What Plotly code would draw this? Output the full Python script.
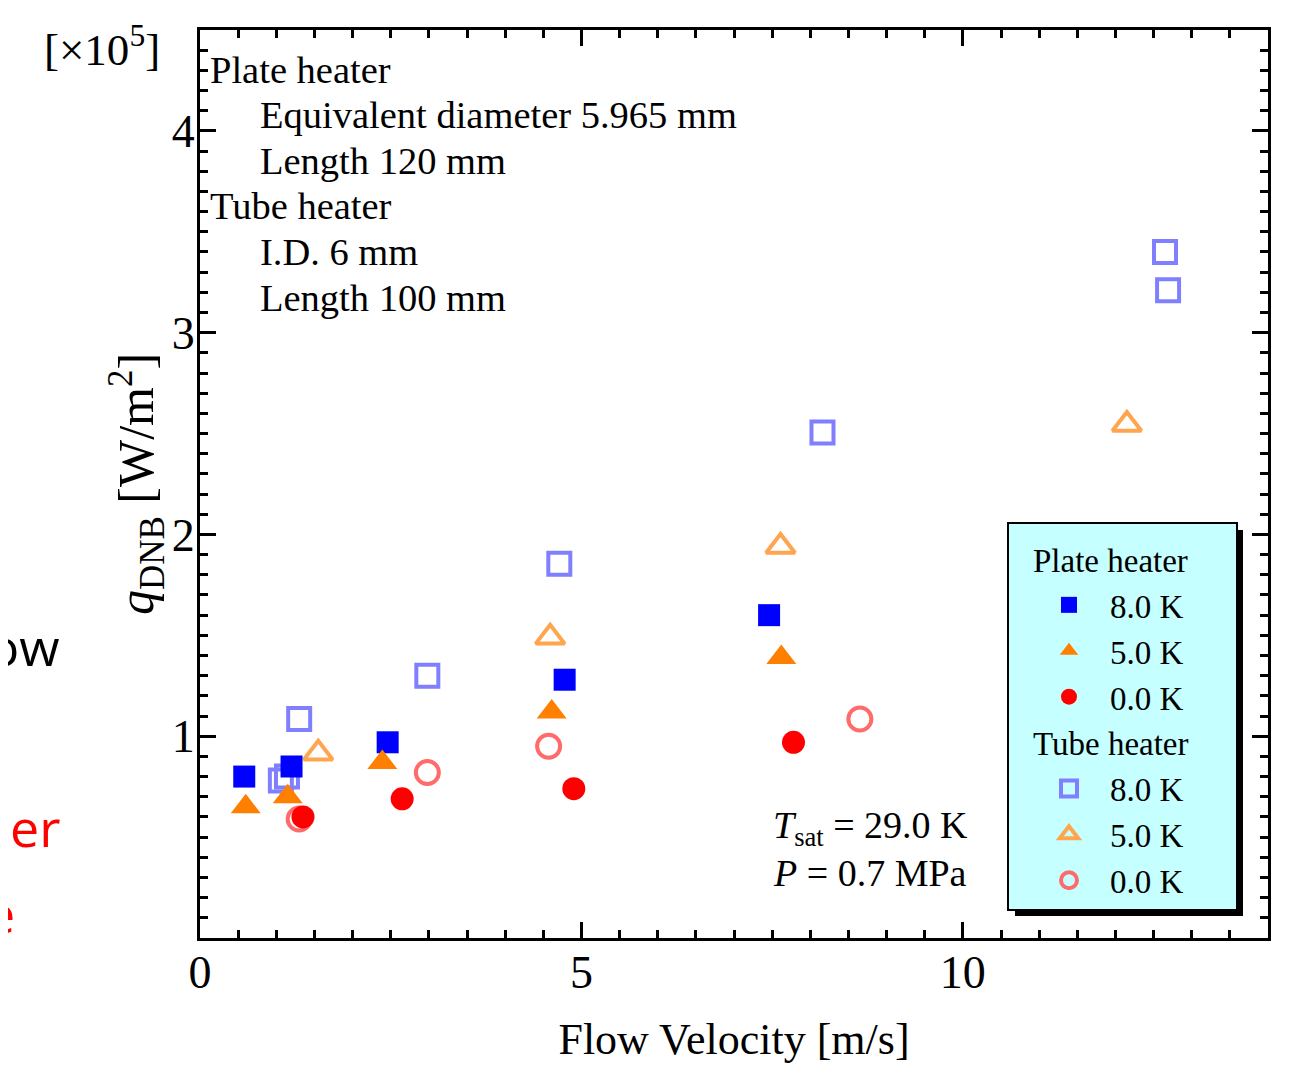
import plotly.graph_objects as go

# ---------------- data ----------------
plate_8K_v = [0.58, 1.20, 2.46, 4.78, 7.46]
plate_8K_q = [0.80, 0.85, 0.97, 1.28, 1.60]

plate_5K_v = [0.60, 1.15, 2.39, 4.61, 7.62]
plate_5K_q = [0.65, 0.70, 0.87, 1.12, 1.39]

plate_0K_v = [1.35, 2.65, 4.90, 7.78]
plate_0K_q = [0.60, 0.69, 0.74, 0.97]

tube_8K_v = [1.06, 1.14, 1.30, 2.98, 4.71, 8.16, 12.65, 12.69]
tube_8K_q = [0.78, 0.80, 1.085, 1.30, 1.855, 2.505, 3.40, 3.21]

tube_5K_v = [1.55, 4.59, 7.61, 12.15]
tube_5K_q = [0.915, 1.49, 1.94, 2.545]

tube_0K_v = [1.30, 2.98, 4.57, 8.65]
tube_0K_q = [0.59, 0.82, 0.95, 1.085]

x_tickvals = [0, 5, 10]
y_tickvals = [1, 2, 3, 4]

# ---------------- layout helpers ----------------
PAGE_W, PAGE_H = 1292, 1077
OFF = 8                       # default html body margin
W, H = PAGE_W - OFF, PAGE_H - OFF
L, R, T, B = 200, 1268, 30, 938   # plot area in page pixels


def px(xp):
    return (xp - L) / (R - L)


def py(yp):
    return (B - yp) / (B - T)


FONT = "Liberation Serif, Times New Roman, serif"
LEG_SIZE = 33

fig = go.Figure()

traces = [
    ("Plate heater", "8.0 K", plate_8K_v, plate_8K_q, "square", "#0000FF", 22, 0),
    ("Plate heater", "5.0 K", plate_5K_v, plate_5K_q, "triangle-up", "#FF8000", 26, 0),
    ("Plate heater", "0.0 K", plate_0K_v, plate_0K_q, "circle", "#FF0000", 23, 0),
    ("Tube heater", "8.0 K", tube_8K_v, tube_8K_q, "square-open", "#8080FF", 22, 4),
    ("Tube heater", "5.0 K", tube_5K_v, tube_5K_q, "triangle-up-open", "#FFA54F", 25, 4),
    ("Tube heater", "0.0 K", tube_0K_v, tube_0K_q, "circle-open", "#FF6B6B", 23, 4),
]

# draw tube (open) first so filled plate markers sit on top
order = [3, 4, 5, 0, 1, 2]
for i in order:
    grp, name, xv, yv, sym, col, sz, lw = traces[i]
    fig.add_trace(go.Scatter(
        x=xv, y=yv, mode="markers", name=name,
        legendgroup=grp,
        legendgrouptitle=dict(text=grp, font=dict(size=LEG_SIZE, family=FONT, color="black")),
        legendrank=i + 1,
        marker=dict(symbol=sym, color=col, size=sz,
                    line=dict(width=lw, color=col)),
    ))

axis_common = dict(
    showline=True, linecolor="black", linewidth=3, mirror="allticks",
    ticks="inside", ticklen=16, tickwidth=3, tickcolor="black",
    showgrid=False, zeroline=False,
    tickfont=dict(family=FONT, size=46, color="black"),
)

fig.update_xaxes(
    range=[0, 14], tickvals=x_tickvals, ticklabelstandoff=-8,
    minor=dict(ticks="inside", ticklen=8, tickwidth=3, tickcolor="black", dtick=0.5, showgrid=False),
    title=dict(text="Flow Velocity [m/s]", font=dict(family=FONT, size=44, color="black"), standoff=26),
    **axis_common,
)
fig.update_yaxes(
    range=[0, 4.5], tickvals=y_tickvals, ticklabelstandoff=-7,
    minor=dict(ticks="inside", ticklen=8, tickwidth=3, tickcolor="black", dtick=0.1, showgrid=False),
    title=dict(text="<i>q</i><sub>DNB</sub> [W/m<sup>2</sup>]",
               font=dict(family=FONT, size=50, color="black"), standoff=0),
    **axis_common,
)

annotations = []
# top-left description block
for text, xp, yp in [
    ("Plate heater", 208, 70),
    ("Equivalent diameter 5.965 mm", 258, 115),
    ("Length 120 mm", 258, 161),
    ("Tube heater", 208, 206),
    ("I.D. 6 mm", 258, 252),
    ("Length 100 mm", 258, 298),
]:
    annotations.append(dict(text=text, x=px(xp), y=py(yp), xref="paper", yref="paper",
                            xanchor="left", yanchor="middle", showarrow=False,
                            font=dict(family=FONT, size=38.5, color="black")))

annotations.append(dict(text="<i>T</i><sub>sat</sub> = 29.0 K", x=px(771), y=py(828),
                        xref="paper", yref="paper", xanchor="left", yanchor="middle",
                        showarrow=False, font=dict(family=FONT, size=38, color="black")))
annotations.append(dict(text="<i>P</i> = 0.7 MPa", x=px(771), y=py(873),
                        xref="paper", yref="paper", xanchor="left", yanchor="middle",
                        showarrow=False, font=dict(family=FONT, size=38, color="black")))

annotations.append(dict(text="[×10<sup>5</sup>]", x=px(162), y=py(46),
                        xref="paper", yref="paper", xanchor="right", yanchor="middle",
                        showarrow=False, font=dict(family=FONT, size=45, color="black")))

# slide fragments cut at the left border
for text, xp, yp, col in [("ow", 62, 645, "black"), ("er", 62, 826, "#FF0000"), ("e", 17, 912, "#FF0000")]:
    annotations.append(dict(text=text, x=px(xp), y=py(yp), xref="paper", yref="paper",
                            xanchor="right", yanchor="middle", showarrow=False,
                            font=dict(family="Open Sans, sans-serif", size=52, color=col)))

shapes = [
    # legend shadow
    dict(type="rect", xref="paper", yref="paper", x0=px(1015), x1=px(1243), y0=py(916), y1=py(530),
         fillcolor="black", line=dict(width=0), layer="above"),
    # legend box
    dict(type="rect", xref="paper", yref="paper", x0=px(1008), x1=px(1237), y0=py(910), y1=py(523),
         fillcolor="#C6FFFF", line=dict(width=2, color="black"), layer="above"),
]

fig.update_layout(
    width=W, height=H,
    margin=dict(l=L - OFF, r=PAGE_W - R, t=T - OFF, b=PAGE_H - B, autoexpand=False),
    paper_bgcolor="white", plot_bgcolor="white",
    font=dict(family=FONT, color="black"),
    showlegend=True,
    legend=dict(
        x=px(1028), y=py(531), xanchor="left", yanchor="top",
        bgcolor="rgba(0,0,0,0)", borderwidth=0,
        font=dict(family=FONT, size=LEG_SIZE, color="black"),
        itemwidth=72, tracegroupgap=0, traceorder="grouped",
        itemsizing="trace",
    ),
    annotations=annotations,
    shapes=shapes,
)

fig.write_html("out.html")
